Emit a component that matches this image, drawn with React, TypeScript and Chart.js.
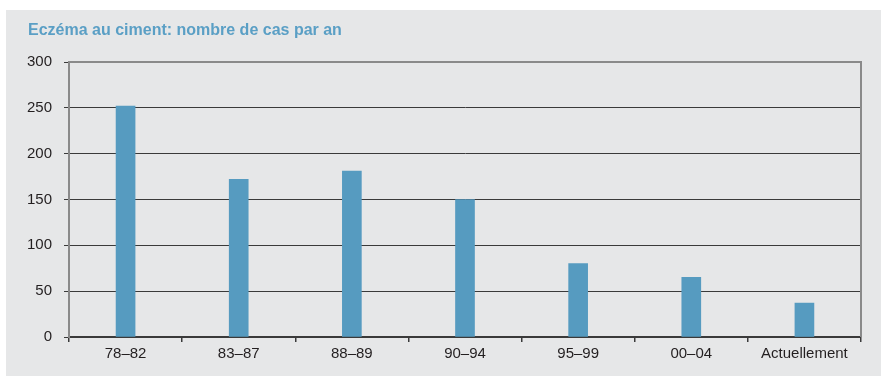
import React, { useEffect, useRef } from "react";
import { Chart, registerables } from "chart.js";

Chart.register(...registerables);

const title = "Eczéma au ciment: nombre de cas par an";
const periods = ["78–82", "83–87", "88–89", "90–94", "95–99", "00–04", "Actuellement"];
const cases = [252, 172, 181, 150, 80, 65, 37];
const yTicks = [0, 50, 100, 150, 200, 250, 300];

const FONT = "'Liberation Sans', Arial, Helvetica, sans-serif";
const BAR = "#569bc0";
const TEXT = "#231f20";

// Title text plus the grey top/right frame of the plot area
const framePlugin = {
  id: "frame",
  afterDraw(chart: any) {
    const { ctx, chartArea } = chart;
    ctx.save();
    ctx.strokeStyle = "#8a8a8a";
    ctx.lineWidth = 2;
    ctx.beginPath();
    ctx.moveTo(chartArea.left, chartArea.top);
    ctx.lineTo(chartArea.right, chartArea.top);
    ctx.lineTo(chartArea.right, chartArea.bottom);
    ctx.stroke();
    ctx.fillStyle = "#5a9fc5";
    ctx.font = `bold 16px ${FONT}`;
    ctx.textBaseline = "alphabetic";
    ctx.textAlign = "left";
    ctx.fillText(title, 22, 25);
    ctx.restore();
  },
};

export default function App() {
  const ref = useRef<HTMLCanvasElement>(null);

  useEffect(() => {
    if (!ref.current) return;
    const chart = new Chart(ref.current, {
      type: "bar",
      data: {
        labels: periods,
        datasets: [
          {
            data: cases,
            backgroundColor: BAR,
            borderWidth: 0,
            barThickness: 19,
          },
        ],
      },
      options: {
        animation: false,
        responsive: false,
        devicePixelRatio: 1,
        layout: { padding: { top: 52, right: 20, left: 0, bottom: 0 } },
        plugins: {
          legend: { display: false },
          title: { display: false },
          tooltip: { enabled: false },
        },
        scales: {
          x: {
            afterFit: (s: any) => {
              s.height = 39;
            },
            grid: {
              offset: true,
              drawOnChartArea: false,
              drawTicks: true,
              tickLength: 5,
              color: "#3a3a3a",
              lineWidth: 1.5,
            },
            border: { display: true, color: "#3a3a3a", width: 2 },
            ticks: {
              color: TEXT,
              font: { family: FONT, size: 15 },
              padding: 3,
              maxRotation: 0,
              autoSkip: false,
            },
          },
          y: {
            min: 0,
            max: 300,
            afterFit: (s: any) => {
              s.width = 63;
            },
            afterBuildTicks: (s: any) => {
              s.ticks = yTicks.map((v) => ({ value: v }));
            },
            grid: {
              color: "#3a3a3a",
              lineWidth: 1,
              drawTicks: true,
              tickLength: 5,
            },
            border: { display: true, color: "#8a8a8a", width: 2 },
            ticks: {
              color: TEXT,
              font: { family: FONT, size: 15 },
              padding: 12,
            },
          },
        },
      },
      plugins: [framePlugin],
    });
    return () => chart.destroy();
  }, []);

  return (
    <div
      style={{
        position: "absolute",
        left: 0,
        top: 0,
        width: 881,
        height: 376,
        background: "#ffffff",
      }}
    >
      <div
        style={{
          position: "absolute",
          left: 6,
          top: 10,
          width: 875,
          height: 366,
          background: "#e6e7e8",
        }}
      >
        <canvas ref={ref} width={875} height={366} style={{ display: "block" }} />
      </div>
    </div>
  );
}
